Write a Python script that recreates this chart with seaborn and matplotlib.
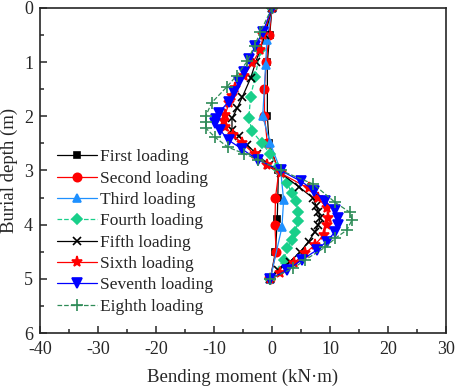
import matplotlib
matplotlib.use("Agg")
import seaborn as sns
import matplotlib.pyplot as plt
from matplotlib.ticker import MultipleLocator

sns.set_style("ticks")
plt.rcParams['font.family'] = ['Liberation Serif', 'DejaVu Serif']
plt.rcParams['axes.unicode_minus'] = False

# ------ data: depth (m) and bending moment (kN·m) per loading ------ #
first_depth = [0, 0.5, 1.0, 2.0, 2.5, 3.0, 3.5, 3.9, 4.5, 5.0]
first_moment = [0, -0.4, -0.8, -0.8, -0.5, 1.1, 1.0, 0.9, 0.6, -0.3]

second_depth = [0, 0.5, 1.0, 1.5, 2.0, 2.5, 3.0, 3.5, 4.0, 4.5, 5.0]
second_moment = [0, -0.5, -1.0, -1.3, -1.3, -0.8, 1.2, 0.6, 0.5, 0.7, -0.3]

third_depth = [0, 0.6, 1.05, 2.0, 2.5, 3.0, 3.55, 4.05, 5.0]
third_moment = [0, -0.9, -1.1, -1.6, -0.3, 1.5, 2.0, 1.7, -0.3]

fourth_depth = [0, 0.77, 1.27, 1.64, 2.04, 2.28, 2.5, 2.7, 2.95, 3.24, 3.41,
                3.57, 3.76, 3.94, 4.13, 4.28, 4.43, 4.65, 5.0]
fourth_moment = [0, -2.0, -2.9, -3.7, -4.0, -3.4, -1.7, -0.3, 0.9, 2.6, 3.4,
                 4.1, 4.5, 4.5, 4.0, 3.4, 2.6, 2.0, -0.3]

fifth_depth = [0, 0.5, 1.0, 1.3, 1.64, 1.85, 2.04, 2.25, 2.37, 2.53, 2.7, 2.9,
               3.05, 3.3, 3.51, 3.65, 3.76, 3.88, 4.0, 4.13, 4.31, 4.5, 4.68,
               4.84, 5.0]
fifth_moment = [0, -1.2, -2.8, -3.7, -5.1, -6.0, -6.9, -6.9, -5.7, -4.3, -2.6,
                -0.5, 1.5, 4.6, 7.1, 7.6, 8.0, 8.3, 8.0, 7.4, 6.3, 4.9, 3.1,
                1.1, -0.3]

sixth_depth = [0, 0.5, 0.77, 1.02, 1.25, 1.48, 1.62, 1.76, 1.97, 2.08, 2.19,
               2.35, 2.5, 2.7, 2.9, 3.05, 3.33, 3.51, 3.69, 3.88, 4.0, 4.19,
               4.37, 4.53, 4.7, 4.9, 5.0]
sixth_moment = [0, -1.5, -2.0, -3.4, -4.8, -6.4, -6.9, -7.4, -8.1, -8.3, -8.1,
                -6.8, -5.1, -3.0, -0.8, 1.5, 6.3, 8.0, 9.4, 9.7, 9.4, 8.9,
                7.4, 5.7, 3.8, 1.4, -0.3]

seventh_depth = [0, 0.45, 0.71, 0.95, 1.19, 1.36, 1.55, 1.73, 1.94, 2.05,
                 2.13, 2.26, 2.44, 2.61, 2.8, 3.0, 3.2, 3.37, 3.57, 3.72,
                 3.88, 4.0, 4.13, 4.31, 4.47, 4.65, 4.84, 5.0]
seventh_moment = [0, -1.6, -2.9, -3.9, -4.9, -5.7, -6.6, -7.5, -9.2, -9.6,
                  -9.8, -8.9, -7.5, -5.1, -2.5, 1.5, 5.0, 7.3, 9.1, 10.9,
                  11.4, 11.3, 10.9, 9.4, 7.7, 5.1, 2.6, -0.3]

eighth_depth = [0, 0.44, 0.7, 0.99, 1.25, 1.46, 1.75, 1.99, 2.1, 2.22, 2.39,
                2.57, 2.69, 2.8, 3.0, 3.25, 3.59, 3.77, 3.91, 4.1, 4.25,
                4.42, 4.65, 4.8, 5.0]
eighth_moment = [0, -2.0, -3.0, -4.3, -6.1, -7.8, -10.4, -11.4, -11.4, -11.4,
                 -9.8, -7.6, -4.8, -2.4, 1.5, 7.1, 10.9, 13.4, 13.8, 12.9,
                 10.9, 9.1, 5.7, 3.7, -0.3]

labels = ["First loading", "Second loading", "Third loading", "Fourth loading",
          "Fifth loading", "Sixth loading", "Seventh loading", "Eighth loading"]

series = [
    (first_moment, first_depth, "black", "s", "-", 5),
    (second_moment, second_depth, "#ff0000", "o", "-", 6),
    (third_moment, third_depth, "#1e90ff", "^", "-", 6),
    (fourth_moment, fourth_depth, "#19cf8a", "D", "--", 5),
    (fifth_moment, fifth_depth, "black", "x", "-", 6),
    (sixth_moment, sixth_depth, "#ff0000", "*", "-", 8),
    (seventh_moment, seventh_depth, "#0000ff", "v", "-", 7),
    (eighth_moment, eighth_depth, "#2e8b57", "+", "--", 8),
]

fig, ax = plt.subplots(figsize=(4.57, 3.91), dpi=100, facecolor="w")
fig.subplots_adjust(left=0.0875, right=0.976, bottom=0.148, top=0.98)

for (x, y, c, m, ls, ms), lab in zip(series, labels):
    sns.lineplot(x=x, y=y, sort=False, estimator=None, color=c, marker=m,
                 markersize=ms, markeredgecolor=c, markeredgewidth=1.2,
                 linestyle=ls, linewidth=0.9, label=lab, ax=ax)

ax.set_xlim(-40, 30)
ax.set_ylim(6, 0)
ax.xaxis.set_major_locator(MultipleLocator(10))
ax.xaxis.set_minor_locator(MultipleLocator(5))
ax.yaxis.set_major_locator(MultipleLocator(1))
ax.yaxis.set_minor_locator(MultipleLocator(0.5))
ax.tick_params(which="both", direction="in", top=False, right=False,
               labelsize=13, width=1.1)
ax.tick_params(which="major", length=5)
ax.tick_params(which="minor", length=3)
ax.tick_params(axis="x", which="major", pad=6)
ax.tick_params(axis="y", which="major", pad=5)
for sp in ax.spines.values():
    sp.set_linewidth(1.2)
    sp.set_visible(True)

ax.set_xlabel("Bending moment (kN·m)", fontsize=13.5, labelpad=7)
ax.set_ylabel("Burial depth (m)", fontsize=13.5, labelpad=4)

ax.legend(loc="lower left", bbox_to_anchor=(0.025, 0.035), frameon=False,
          fontsize=12.5, handlelength=2.3, handletextpad=0.2,
          labelspacing=0.3, borderaxespad=0)

plt.savefig("out.png", dpi=100)
